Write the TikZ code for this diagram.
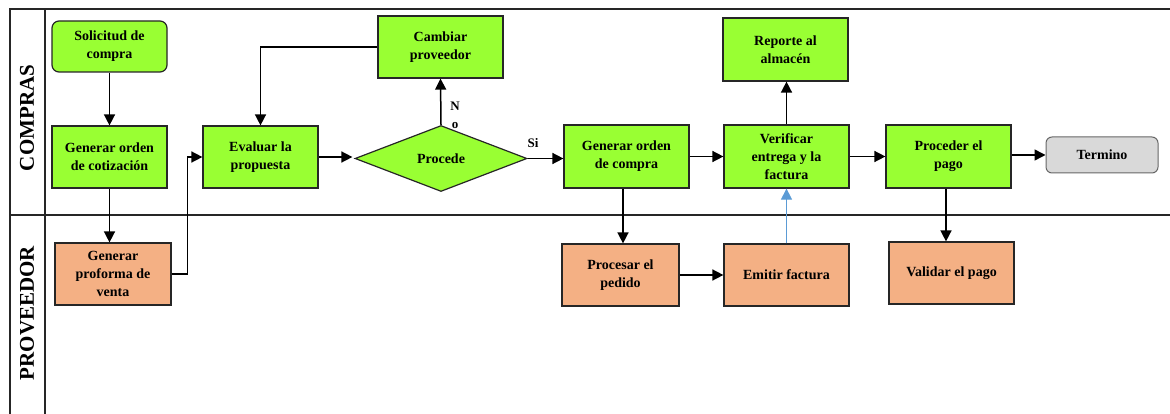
\documentclass[tikz,border=0pt]{standalone}
\usepackage{fontspec}
\setmainfont{Liberation Serif}
\usetikzlibrary{shapes.geometric,arrows.meta,calc}
\definecolor{actgreen}{RGB}{153,255,51}
\definecolor{provorange}{RGB}{244,176,132}
\definecolor{endgray}{RGB}{217,217,217}
\definecolor{lanegray}{RGB}{38,38,38}
\definecolor{invblue}{RGB}{91,155,213}
\tikzset{
  every node/.style={font=\fontsize{14}{18}\selectfont\bfseries},
  actbox/.style={draw=black!85, line width=1.2pt, fill=actgreen, align=center, inner sep=0pt},
  provbox/.style={draw=black!85, line width=1.2pt, fill=provorange, align=center, inner sep=0pt},
  endbox/.style={draw=black!60, line width=1pt, fill=endgray, rounded corners=6pt, align=center, inner sep=0pt},
  decbox/.style={draw=black!85, line width=1.2pt, fill=actgreen, diamond, inner sep=0pt},
  flow/.style={draw=black, line width=1.5pt, -{Triangle[length=11pt,width=11pt]}},
  lanelabel/.style={rotate=90, font=\fontsize{21}{21}\selectfont\bfseries},
  laneline/.style={draw=lanegray, line width=1.8pt}
}
\begin{document}
\begin{tikzpicture}[x=1pt,y=-1pt]
\useasboundingbox (0,0) rectangle (1170,414);

% swimlane frame
\draw[laneline] (1170,9) -- (10,9) -- (10,414);
\draw[laneline] (45,9) -- (45,414);
\draw[laneline] (10,215) -- (1170,215);
\node[lanelabel] (lcompras) at (27,118) {COMPRAS};
\node[lanelabel] (lprov) at (27,313) {PROVEEDOR};

% COMPRAS lane
\node[actbox, rounded corners=7pt, minimum width=115pt, minimum height=51pt] (soli) at (109.5,46.5) {Solicitud de\\compra};
\node[actbox, minimum width=115pt, minimum height=62pt] (gcot) at (109.5,157) {Generar orden\\de cotización};
\node[actbox, minimum width=115pt, minimum height=62pt] (eval) at (260.5,157) {Evaluar la\\propuesta};
\node[actbox, minimum width=125pt, minimum height=62pt] (camb) at (440.5,47) {Cambiar\\proveedor};
\node[decbox, minimum width=172pt, minimum height=66pt] (proc) at (441,158.5) {Procede};
\node[actbox, minimum width=125pt, minimum height=63pt] (gcom) at (626.5,156.5) {Generar orden\\de compra};
\node[actbox, minimum width=125pt, minimum height=63pt] (veri) at (786.5,156.5) {Verificar\\entrega y la\\factura};
\node[actbox, minimum width=125pt, minimum height=63pt] (repo) at (785.5,49.5) {Reporte al\\almacén};
\node[actbox, minimum width=125pt, minimum height=63pt] (pago) at (948.5,156.5) {Proceder el\\pago};
\node[endbox, minimum width=112pt, minimum height=36pt] (term) at (1102,155) {Termino};

% PROVEEDOR lane
\node[provbox, minimum width=116pt, minimum height=62pt] (prof) at (113,274) {Generar\\proforma de\\venta};
\node[provbox, minimum width=117pt, minimum height=62pt] (pped) at (620.5,275) {Procesar el\\pedido};
\node[provbox, minimum width=125pt, minimum height=62pt] (emit) at (786.5,275) {Emitir factura};
\node[provbox, minimum width=125pt, minimum height=62pt] (vali) at (951.5,273) {Validar el pago};

% connectors
\draw[flow] (soli.south) -- (gcot.north);
\draw[flow] (gcot.south) -- (gcot.south |- prof.north);
\draw[flow] (prof.east) -- ++(16,0) |- (eval.west);
\draw[flow] (camb.west) -| (eval.north);
\draw[flow] (eval.east) -- ($(eval.east -| proc.west)+(-2,0)$);
\draw[flow] (proc.north) -- (camb.south);
\draw[flow] (proc.east) -- (proc.east -| gcom.west);
\draw[flow] (gcom.east) -- (veri.west);
\draw[flow] (veri.north) -- (veri.north |- repo.south);
\draw[flow] (veri.east) -- (pago.west);
\draw[flow] (pago.east |- term.west) -- (term.west);
\draw[flow] ($(gcom.south)+(-3.5,0)$) -- ($(gcom.south |- pped.north)+(-3.5,0)$);
\draw[flow] (pped.east) -- (pped.east -| emit.west);
\draw[flow, draw=invblue, fill=invblue, line width=0.8pt] (emit.north) -- (veri.south);
\draw[flow] ($(pago.south)+(-2.5,0)$) -- ($(pago.south |- vali.north)+(-2.5,0)$);

% decision labels
\node[font=\fontsize{13}{18}\selectfont\bfseries, align=center, inner sep=0pt] (lno) at (455,115) {N\\o};
\node[font=\fontsize{13}{13}\selectfont\bfseries, inner sep=0pt] (lsi) at (533,143) {Si};
\end{tikzpicture}
\end{document}
